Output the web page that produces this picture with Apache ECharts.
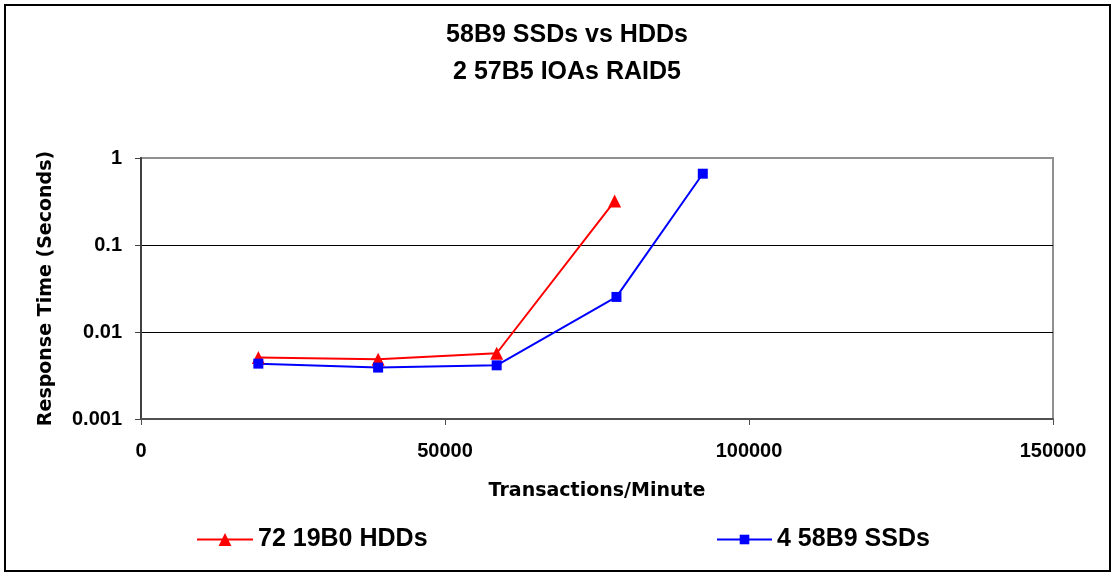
<!DOCTYPE html>
<html>
<head>
<meta charset="utf-8">
<script src="https://cdn.jsdelivr.net/npm/echarts@6/dist/echarts.min.js"></script>
<style>html,body{margin:0;padding:0;background:#fff}#c{width:1114px;height:574px}</style>
</head>
<body>
<div id="c"></div>
<script>
const titleLines = ['58B9 SSDs vs HDDs', '2 57B5 IOAs RAID5'];
const xTitle = 'Transactions/Minute';
const yTitle = 'Response Time (Seconds)';
const seriesNames = ['72 19B0 HDDs', '4 58B9 SSDs'];
const hddX = [19300, 39000, 58500, 77900];
const hddY = [0.0051, 0.00485, 0.0057, 0.32];
const ssdX = [19300, 39000, 58500, 78200, 92400];
const ssdY = [0.00433, 0.0039, 0.00414, 0.0253, 0.66];
const xTicks = [0, 50000, 100000, 150000];
const yTicks = [0.001, 0.01, 0.1, 1];

const font = '"Liberation Sans", Arial, sans-serif';
const pair = (xs, ys) => xs.map((x, i) => [x, ys[i]]);

const chart = echarts.init(document.getElementById('c'), null, {renderer: 'canvas'});
chart.setOption({
  animation: false,
  backgroundColor: '#fff',
  title: {
    text: titleLines.join('\n'),
    left: 562, top: 12, textAlign: 'center',
    textStyle: {fontFamily: font, fontWeight: 'bold', fontSize: 25, lineHeight: 37, color: '#000'}
  },
  graphic: [{
    type: 'rect', shape: {x: 5, y: 5, width: 1105, height: 566},
    style: {fill: 'none', stroke: '#000', lineWidth: 2}, silent: true
  }],
  grid: {left: 141, right: 61, top: 158, bottom: 155, show: true, borderColor: '#909090', borderWidth: 2, backgroundColor: '#fff'},
  xAxis: {
    type: 'value', min: xTicks[0], max: xTicks[xTicks.length - 1], interval: 50000,
    name: xTitle, nameLocation: 'middle', nameGap: 63,
    nameTextStyle: {fontFamily: '"DejaVu Sans", sans-serif', fontWeight: 'bold', fontSize: 19, color: '#000'},
    axisLine: {show: true, lineStyle: {color: '#505050', width: 2}},
    axisTick: {show: true, length: 6, lineStyle: {color: '#505050', width: 1}},
    axisLabel: {margin: 22, fontFamily: font, fontWeight: 'bold', fontSize: 20, color: '#000',
      formatter: v => String(v)},
    splitLine: {show: false}
  },
  yAxis: {
    type: 'log', logBase: 10, min: yTicks[0], max: yTicks[yTicks.length - 1],
    name: yTitle, nameLocation: 'middle', nameGap: 85,
    nameTextStyle: {fontFamily: '"DejaVu Sans", sans-serif', fontWeight: 'bold', fontSize: 19, color: '#000', padding: [0, 0, 0, 0]},
    axisLine: {show: true, lineStyle: {color: '#404040', width: 2}},
    axisTick: {show: true, length: 6, lineStyle: {color: '#404040', width: 1}},
    axisLabel: {margin: 19, fontFamily: font, fontWeight: 'bold', fontSize: 20, color: '#000',
      formatter: v => { const t = yTicks.find(k => Math.abs(Math.log10(k) - Math.log10(v)) < 1e-6); return t === undefined ? '' : String(t); }},
    splitLine: {show: true, showMinLine: false, showMaxLine: false, lineStyle: {color: '#000', width: 1}}
  },
  legend: [{
    data: [seriesNames[0]], left: 196, top: 527, padding: 0, itemWidth: 56, itemHeight: 16, itemGap: 0,
    textStyle: {fontFamily: font, fontWeight: 'bold', fontSize: 25, color: '#000'}
  }, {
    data: [seriesNames[1]], left: 716, top: 527, padding: 0, itemWidth: 55, itemHeight: 12, itemGap: 0,
    textStyle: {fontFamily: font, fontWeight: 'bold', fontSize: 25, color: '#000'}
  }],
  series: [{
    name: seriesNames[0], type: 'line', data: pair(hddX, hddY),
    symbol: 'triangle', symbolSize: 13,
    lineStyle: {color: '#ff0000', width: 2}, itemStyle: {color: '#ff0000'}
  }, {
    name: seriesNames[1], type: 'line', data: pair(ssdX, ssdY),
    symbol: 'rect', symbolSize: 10,
    lineStyle: {color: '#0000ff', width: 2}, itemStyle: {color: '#0000ff'}
  }]
});
</script>
</body>
</html>
